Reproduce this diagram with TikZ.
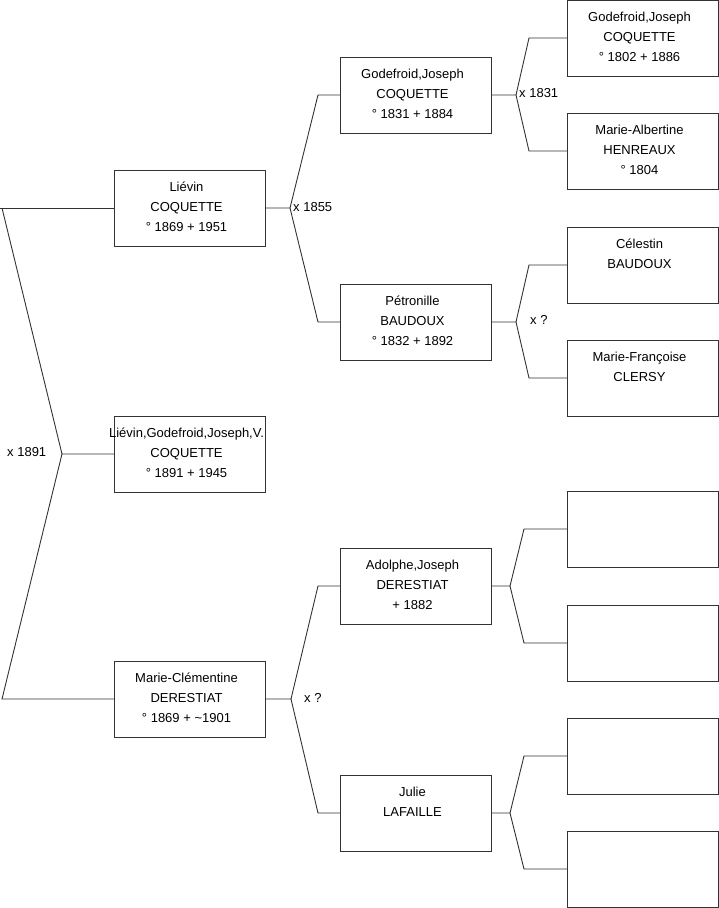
\documentclass[tikz,border=0pt]{standalone}
\usepackage{fontspec}
\setmainfont{Liberation Sans}
\usetikzlibrary{calc}
\begin{document}
\begin{tikzpicture}[x=1pt,y=-1pt,
  pbox/.style={draw=black!80, line width=0.9pt, minimum width=151pt, minimum height=76pt, inner sep=0pt, outer sep=0pt},
  ptext/.style={align=center, font=\fontsize{13}{20}\selectfont, inner sep=0pt, anchor=north, execute at begin node={\rule{0pt}{10pt}}},
  link/.style={draw=black!80, line width=0.9pt},
  mlabel/.style={font=\fontsize{13}{15}\selectfont, inner sep=0pt, anchor=west}]
\useasboundingbox (0,0) rectangle (719,908);
% generation 1
\node[pbox] (L) at (189.5,208) {};
\node[pbox] (C) at (189.5,454) {};
\node[pbox] (M) at (189.5,699) {};
% generation 2
\node[pbox] (G) at (415.5,95) {};
\node[pbox] (P) at (415.5,322) {};
\node[pbox] (A) at (415.5,586) {};
\node[pbox] (J) at (415.5,813) {};
% generation 3
\node[pbox] (G3a) at (642.5,38) {};
\node[pbox] (G3b) at (642.5,151) {};
\node[pbox] (G3c) at (642.5,265) {};
\node[pbox] (G3d) at (642.5,378) {};
\node[pbox] (G3e) at (642.5,529) {};
\node[pbox] (G3f) at (642.5,643) {};
\node[pbox] (G3g) at (642.5,756) {};
\node[pbox] (G3h) at (642.5,869) {};
% texts
\node[ptext] (tL) at ($(L.north)+(-3,11.5)$) {Liévin\\COQUETTE\\° 1869 + 1951};
\node[ptext] (tC) at ($(C.north)+(-3,11.5)$) {Liévin,Godefroid,Joseph,V.\\COQUETTE\\° 1891 + 1945};
\node[ptext] (tM) at ($(M.north)+(-3,11.5)$) {Marie-Clémentine\\DERESTIAT\\° 1869 + \textasciitilde1901};
\node[ptext] (tG) at ($(G.north)+(-3,11.5)$) {Godefroid,Joseph\\COQUETTE\\° 1831 + 1884};
\node[ptext] (tP) at ($(P.north)+(-3,11.5)$) {Pétronille\\BAUDOUX\\° 1832 + 1892};
\node[ptext] (tA) at ($(A.north)+(-3,11.5)$) {Adolphe,Joseph\\DERESTIAT\\+ 1882};
\node[ptext] (tJ) at ($(J.north)+(-3,11.5)$) {Julie\\LAFAILLE};
\node[ptext] (t3a) at ($(G3a.north)+(-3,11.5)$) {Godefroid,Joseph\\COQUETTE\\° 1802 + 1886};
\node[ptext] (t3b) at ($(G3b.north)+(-3,11.5)$) {Marie-Albertine\\HENREAUX\\° 1804};
\node[ptext] (t3c) at ($(G3c.north)+(-3,11.5)$) {Célestin\\BAUDOUX};
\node[ptext] (t3d) at ($(G3d.north)+(-3,11.5)$) {Marie-Françoise\\CLERSY};
% root connector
\coordinate (r0) at (0,208);
\coordinate (rs) at (2,208);
\coordinate (rf) at (62,454);
\coordinate (rb) at (2,699);
\draw[link] (r0) -- (L.west);
\draw[link] (rs) -- (rf) -- (C.west);
\draw[link] (rf) -- (rb) -- (M.west);
\node[mlabel] (m0) at (7,452) {x 1891};
% L fork
\coordinate (fL) at (290,208);
\draw[link] (L.east) -- (fL) -- (318,95) -- (G.west);
\draw[link] (fL) -- (318,322) -- (P.west);
\node[mlabel] (mL) at (293,207) {x 1855};
% M fork
\coordinate (fM) at (291,699);
\draw[link] (M.east) -- (fM) -- (318,586) -- (A.west);
\draw[link] (fM) -- (318,813) -- (J.west);
\node[mlabel] (mM) at (304,698) {x ?};
% G fork
\coordinate (fG) at (516,95);
\draw[link] (G.east) -- (fG) -- (529,38) -- (G3a.west);
\draw[link] (fG) -- (529,151) -- (G3b.west);
\node[mlabel] (mG) at (519,93) {x 1831};
% P fork
\coordinate (fP) at (516,322);
\draw[link] (P.east) -- (fP) -- (529,265) -- (G3c.west);
\draw[link] (fP) -- (529,378) -- (G3d.west);
\node[mlabel] (mP) at (530,320) {x ?};
% A fork
\coordinate (fA) at (510,586);
\draw[link] (A.east) -- (fA) -- (524,529) -- (G3e.west);
\draw[link] (fA) -- (524,643) -- (G3f.west);
% J fork
\coordinate (fJ) at (510,813);
\draw[link] (J.east) -- (fJ) -- (524,756) -- (G3g.west);
\draw[link] (fJ) -- (524,869) -- (G3h.west);
\end{tikzpicture}
\end{document}
